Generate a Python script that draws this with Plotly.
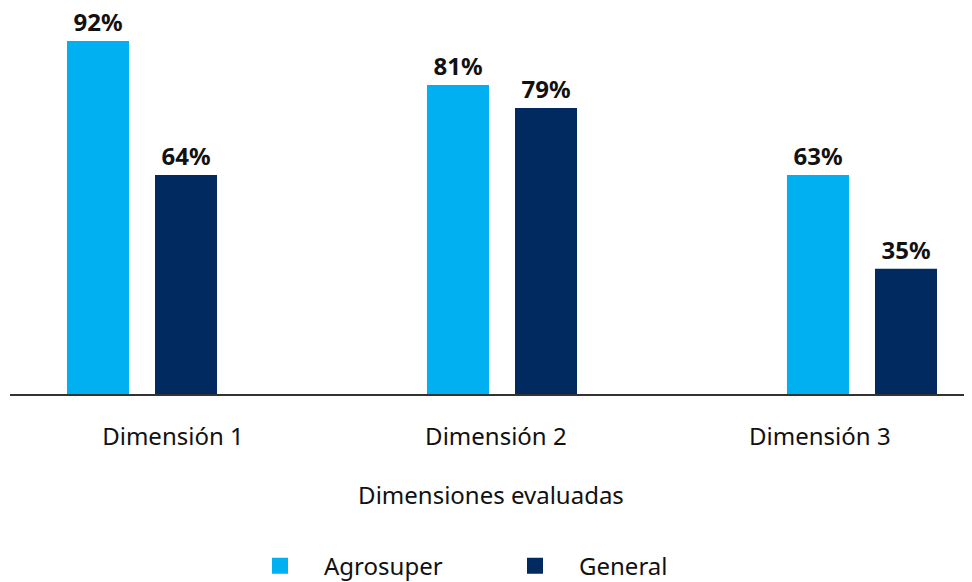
import plotly.graph_objects as go

categories = ["Dimensión 1", "Dimensión 2", "Dimensión 3"]
series_names = ["Agrosuper", "General"]
# bar heights as drawn in the picture (percent scale)
agrosuper_values = [91.9, 80.5, 57.0]
general_values = [57.0, 74.5, 32.6]
# value labels printed above the bars
agrosuper_labels = ["92%", "81%", "63%"]
general_labels = ["64%", "79%", "35%"]

colors = ["#00B0F0", "#002A60"]
FONT = "Noto Sans, Open Sans, sans-serif"
TXT = "#111111"

fig = go.Figure()
for name, vals, labs, col in [
    (series_names[0], agrosuper_values, agrosuper_labels, colors[0]),
    (series_names[1], general_values, general_labels, colors[1]),
]:
    fig.add_trace(go.Bar(
        x=categories, y=vals, name=name, text=labs,
        textposition="outside", cliponaxis=False,
        textfont=dict(family=FONT, size=24, color=TXT, weight="bold"),
        marker=dict(color=col, line=dict(width=0)),
        showlegend=False,
    ))
    fig.add_trace(go.Scatter(
        x=[None], y=[None], mode="markers", name=name,
        marker=dict(symbol="square", size=16, color=col),
        showlegend=True,
    ))

xr = [-0.3667, 2.3056]
fig.update_layout(
    width=964, height=582,
    margin=dict(l=2, r=0, t=2, b=196),
    paper_bgcolor="white", plot_bgcolor="white",
    barmode="group", bargap=0.511, bargroupgap=0.2955,
    font=dict(family=FONT, color=TXT, size=24),
    xaxis=dict(
        type="category", range=xr, showticklabels=False, ticks="",
        showline=True, linecolor="#333333", linewidth=2, showgrid=False,
        zeroline=False,
    ),
    xaxis2=dict(
        overlaying="x", anchor="y", side="bottom", range=xr,
        tickmode="array", tickvals=[0.086, 0.983, 1.883], ticktext=categories,
        ticks="", showline=False, showgrid=False, zeroline=False,
        tickfont=dict(size=24, color=TXT), ticklabelstandoff=26,
        title=dict(text="Dimensiones evaluadas", font=dict(size=24, color=TXT), standoff=36),
    ),
    yaxis=dict(range=[0, 100], visible=False, showgrid=False, zeroline=False),
    legend=dict(
        orientation="h", x=0.5, xanchor="center", y=-0.448, yanchor="middle",
        font=dict(size=24, color=TXT), itemwidth=78, entrywidth=162,
        bgcolor="rgba(0,0,0,0)",
    ),
)
# dummy trace on xaxis2 so that its tick labels are drawn
fig.add_trace(go.Scatter(x=[None], y=[None], xaxis="x2", showlegend=False, hoverinfo="skip"))

fig.write_html("out.html")
